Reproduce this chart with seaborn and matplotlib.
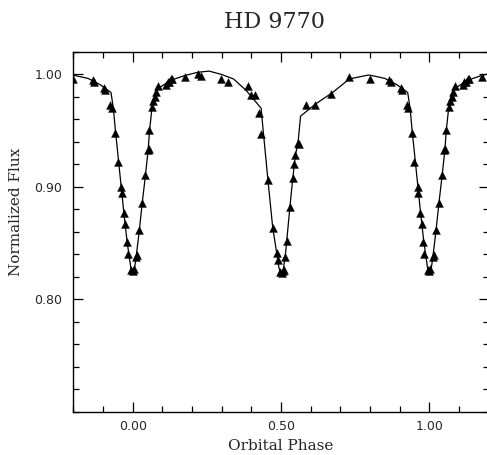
import numpy as np
import pandas as pd
import matplotlib
matplotlib.use("Agg")
import matplotlib.pyplot as plt
from matplotlib.ticker import MultipleLocator, FixedLocator
import seaborn as sns

# Observed points, one cycle (phase -0.2 .. 0.8); the plot repeats it one cycle later
obs_phase = [-0.200, -0.135, -0.130, -0.095, -0.092, -0.076, -0.071, -0.059, -0.051,
             -0.039, -0.037, -0.030, -0.026, -0.020, -0.017, -0.006, 0.000, 0.003,
             0.011, 0.014, 0.023, 0.032, 0.042, 0.051, 0.054, 0.056, 0.065, 0.069,
             0.075, 0.080, 0.087, 0.112, 0.118, 0.123, 0.129, 0.133, 0.176, 0.219,
             0.230, 0.298, 0.323, 0.390, 0.398, 0.414, 0.427, 0.434, 0.456, 0.472,
             0.485, 0.489, 0.497, 0.502, 0.506, 0.511, 0.515, 0.519, 0.530, 0.539,
             0.545, 0.548, 0.557, 0.559, 0.584, 0.615, 0.669, 0.730]
obs_flux = [0.996, 0.995, 0.993, 0.988, 0.986, 0.973, 0.970, 0.948, 0.922,
            0.900, 0.895, 0.877, 0.867, 0.851, 0.840, 0.826, 0.825, 0.827,
            0.838, 0.839, 0.862, 0.886, 0.911, 0.933, 0.934, 0.951, 0.971, 0.976,
            0.980, 0.984, 0.990, 0.991, 0.993, 0.993, 0.996, 0.996, 0.998, 1.000,
            0.999, 0.996, 0.993, 0.990, 0.982, 0.982, 0.966, 0.947, 0.906, 0.863,
            0.841, 0.835, 0.824, 0.823, 0.825, 0.826, 0.838, 0.852, 0.882, 0.908,
            0.920, 0.928, 0.939, 0.938, 0.973, 0.973, 0.983, 0.998]

# Model light curve, one cycle
model_phase = [-0.200, -0.150, -0.110, -0.073, -0.065, -0.058, -0.047, -0.039, -0.030,
               -0.019, -0.011, -0.005, 0.000, 0.005, 0.011, 0.022, 0.032, 0.043,
               0.052, 0.057, 0.065, 0.073, 0.081, 0.100, 0.130, 0.175, 0.220, 0.258,
               0.300, 0.340, 0.382, 0.433, 0.440, 0.456, 0.472, 0.485, 0.493, 0.500,
               0.507, 0.515, 0.530, 0.539, 0.548, 0.558, 0.566, 0.618, 0.674, 0.730,
               0.792, 0.800]
model_flux = [0.9994, 0.9965, 0.991, 0.984, 0.970, 0.950, 0.922, 0.901, 0.878,
              0.852, 0.837, 0.826, 0.823, 0.825, 0.836, 0.860, 0.885, 0.910,
              0.932, 0.950, 0.970, 0.980, 0.986, 0.990, 0.995, 0.999, 1.002, 1.003,
              1.000, 0.996, 0.986, 0.970, 0.950, 0.906, 0.864, 0.842, 0.828, 0.823,
              0.825, 0.840, 0.882, 0.906, 0.927, 0.941, 0.963, 0.974, 0.984, 0.996,
              0.9994, 0.9994]

x_ticks = [0.0, 0.5, 1.0]
x_labels = ["0.00", "0.50", "1.00"]
y_ticks = [0.80, 0.90, 1.00]
y_labels = ["0.80", "0.90", "1.00"]

obs = pd.DataFrame({"phase": obs_phase, "flux": obs_flux})
obs = pd.concat([obs, obs.assign(phase=obs["phase"] + 1)], ignore_index=True)
obs = obs[obs["phase"] <= 1.2]
model = pd.DataFrame({"phase": model_phase, "flux": model_flux})
model = pd.concat([model, model.assign(phase=model["phase"] + 1)], ignore_index=True)
model = model.drop_duplicates("phase")

sns.set_style("ticks")
fig = plt.figure(figsize=(4.87, 4.55), dpi=100)
ax = fig.add_axes([0.1505, 0.0952, 0.853, 0.7905])

sns.lineplot(data=model, x="phase", y="flux", color="black", linewidth=0.9,
             sort=False, ax=ax)
sns.scatterplot(data=obs, x="phase", y="flux", marker="^", color="black",
                s=32, edgecolor="black", linewidth=0.3, ax=ax, zorder=3)

ax.set_xlim(-0.2, 1.2)
ax.set_ylim(0.70, 1.02)
ax.xaxis.set_major_locator(FixedLocator(x_ticks))
ax.set_xticklabels(x_labels)
ax.xaxis.set_minor_locator(MultipleLocator(0.1))
ax.yaxis.set_major_locator(FixedLocator(y_ticks))
ax.set_yticklabels(y_labels)
ax.yaxis.set_minor_locator(MultipleLocator(0.02))
ax.tick_params(which="both", direction="in", top=True, right=True,
               width=0.9, color="black", labelsize=9, pad=8)
ax.tick_params(which="major", length=7)
ax.tick_params(which="minor", length=4.5)
ax.tick_params(axis="x", pad=6)
for sp in ax.spines.values():
    sp.set_linewidth(1.0)
    sp.set_color("black")

ax.set_xlabel("Orbital Phase", family="DejaVu Serif", fontsize=11, labelpad=4)
ax.set_ylabel("Normalized Flux", family="DejaVu Serif", fontsize=11)
ax.yaxis.set_label_coords(-0.12, 0.555)
fig.text(275 / 487, 1 - 22 / 455, "HD 9770", family="DejaVu Serif", fontsize=16,
         ha="center", va="center")

fig.savefig("out.png", dpi=100)
